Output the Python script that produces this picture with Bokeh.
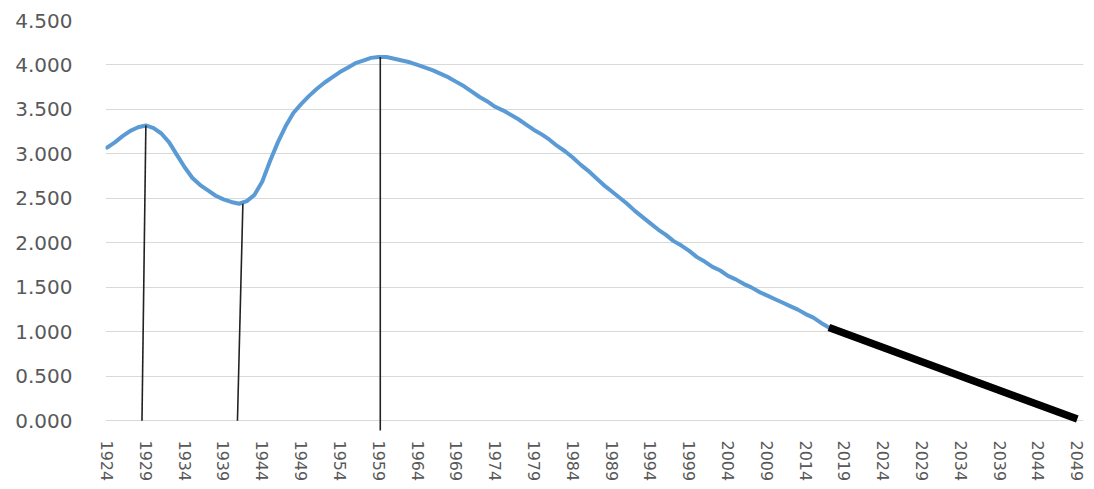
from bokeh.plotting import figure
from bokeh.models import Range1d, FixedTicker, NumeralTickFormatter
from bokeh.embed import file_html
from bokeh.resources import INLINE

# Data
years = list(range(1924, 2018))
values = [
    3.07, 3.13, 3.20, 3.26, 3.30, 3.32, 3.29, 3.23, 3.13, 2.99,   # 1924-1933
    2.85, 2.73, 2.65, 2.59, 2.53, 2.49, 2.46, 2.44, 2.47, 2.54,   # 1934-1943
    2.69, 2.92, 3.13, 3.31, 3.46, 3.56, 3.65, 3.73, 3.80, 3.86,   # 1944-1953
    3.92, 3.97, 4.02, 4.05, 4.08, 4.09, 4.09, 4.07, 4.05, 4.03,   # 1954-1963
    4.00, 3.97, 3.94, 3.90, 3.86, 3.81, 3.76, 3.70, 3.64, 3.59,   # 1964-1973
    3.53, 3.49, 3.44, 3.39, 3.33, 3.27, 3.22, 3.16, 3.09, 3.03,   # 1974-1983
    2.96, 2.88, 2.81, 2.73, 2.65, 2.58, 2.51, 2.44, 2.36, 2.29,   # 1984-1993
    2.22, 2.15, 2.09, 2.02, 1.97, 1.91, 1.84, 1.79, 1.73, 1.69,   # 1994-2003
    1.63, 1.59, 1.54, 1.50, 1.45, 1.41, 1.37, 1.33, 1.29, 1.25,   # 2004-2013
    1.20, 1.16, 1.10, 1.05,                                        # 2014-2017
]
proj_years = [2017, 2049]
proj_values = [1.05, 0.02]

# annotation drop lines (base year, top year, base value, top value)
mark_base_years = [1928.5, 1940.8, 1959.2]
mark_top_years = [1929.0, 1941.5, 1959.2]
mark_base_values = [0.0, 0.0, -0.11]
mark_top_values = [3.32, 2.44, 4.09]

x_ticks = list(range(1924, 2050, 5))
y_ticks = [0.0, 0.5, 1.0, 1.5, 2.0, 2.5, 3.0, 3.5, 4.0, 4.5]

p = figure(width=1092, height=487, output_backend="svg", toolbar_location=None,
           x_range=Range1d(1923.8, 2049.8), y_range=Range1d(-0.12, 4.5),
           min_border_left=105, min_border_right=9, min_border_top=20, min_border_bottom=56)
p.outline_line_color = None
p.background_fill_color = "white"
p.border_fill_color = "white"

# grid
p.xgrid.visible = False
p.ygrid.ticker = FixedTicker(ticks=y_ticks)
p.ygrid.grid_line_color = "#D9D9D9"
p.ygrid.grid_line_width = 1

# axes
for ax in (p.xaxis, p.yaxis):
    ax.axis_line_color = None
    ax.major_tick_line_color = None
    ax.minor_tick_line_color = None
    ax.major_label_text_color = "#595959"
    ax.major_label_text_font = "DejaVu Sans"

p.yaxis.ticker = FixedTicker(ticks=y_ticks)
p.yaxis.formatter = NumeralTickFormatter(format="0.000")
p.yaxis.major_label_standoff = 27
p.yaxis.major_label_text_font_size = "20px"

p.xaxis.ticker = FixedTicker(ticks=x_ticks)
p.xaxis.major_label_orientation = "vertical"
p.xaxis.major_label_standoff = 3
p.xaxis.major_label_text_font_size = "16px"

# lines
p.line(years, values, line_color="#5B9BD5", line_width=4, line_join="round", line_cap="round")
p.line(proj_years, proj_values, line_color="black", line_width=7.5, line_cap="butt")
p.segment(x0=mark_base_years, y0=mark_base_values, x1=mark_top_years, y1=mark_top_values,
          line_color="#222222", line_width=1.6)

open("out.html", "w").write(file_html(p, INLINE))
